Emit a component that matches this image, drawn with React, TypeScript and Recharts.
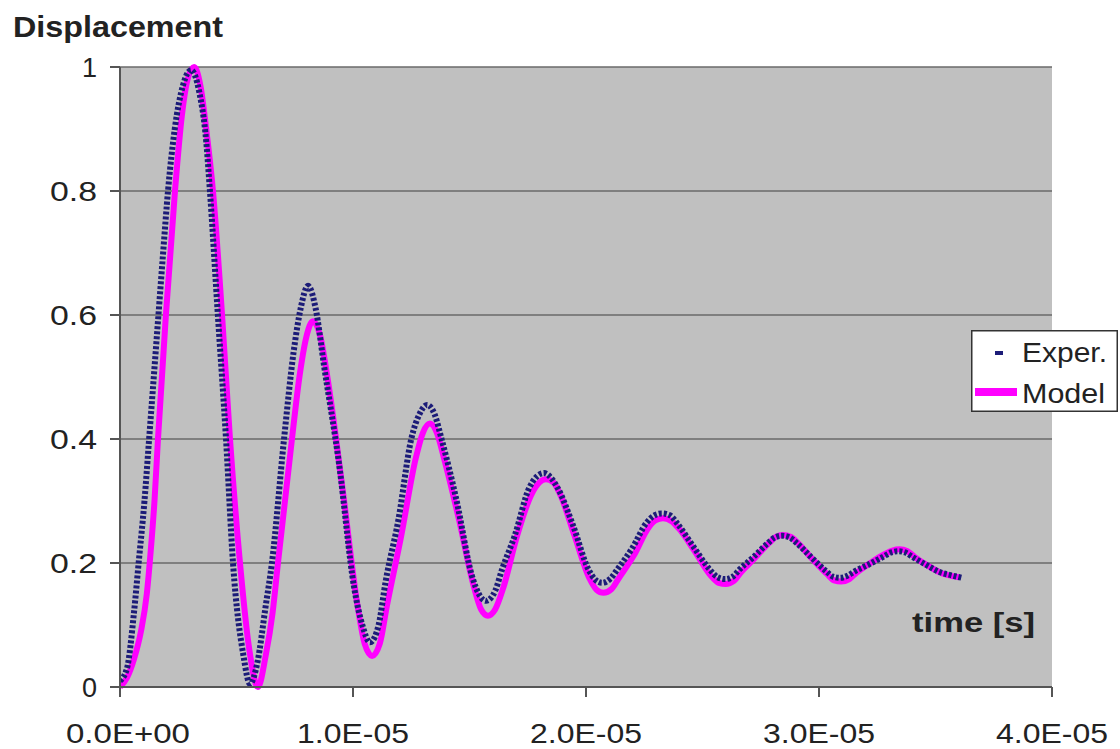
import { LineChart, Line, XAxis, YAxis, CartesianGrid, Legend, Label } from "recharts";

// time in units of 1E-05 s
const expTime = [
  0, 0.03, 0.06, 0.08, 0.105, 0.125, 0.145, 0.165, 0.185, 0.206, 0.235, 0.27, 0.305, 0.34, 0.37, 0.386,
  0.42, 0.455, 0.485, 0.53, 0.558, 0.59, 0.625, 0.652, 0.704, 0.745, 0.775, 0.807, 0.84, 0.875, 0.94,
  1.005, 1.04, 1.073, 1.11, 1.14, 1.195, 1.25, 1.285, 1.318, 1.35, 1.38, 1.445, 1.51, 1.54, 1.571,
  1.61, 1.64, 1.695, 1.755, 1.79, 1.82, 1.855, 1.88, 1.945, 2.01, 2.04, 2.069, 2.105, 2.135, 2.2,
  2.26, 2.295, 2.326, 2.36, 2.395, 2.46, 2.53, 2.565, 2.597, 2.63, 2.66, 2.72, 2.78, 2.81, 2.841,
  2.875, 2.905, 2.965, 3.03, 3.06, 3.09, 3.12, 3.155, 3.215, 3.275, 3.31, 3.339, 3.37, 3.4, 3.46,
  3.52, 3.57, 3.614,
];
const expValue = [
  0.01, 0.03, 0.12, 0.2, 0.3, 0.4, 0.5, 0.6, 0.7, 0.8, 0.9, 0.97, 0.995, 0.96, 0.88, 0.8,
  0.6, 0.4, 0.2, 0.05, 0.005, 0.04, 0.13, 0.2, 0.4, 0.54, 0.61, 0.647, 0.61, 0.52, 0.36,
  0.16, 0.1, 0.072, 0.1, 0.17, 0.27, 0.4, 0.44, 0.455, 0.44, 0.4, 0.3, 0.18, 0.15, 0.139,
  0.155, 0.19, 0.245, 0.32, 0.34, 0.345, 0.335, 0.32, 0.26, 0.19, 0.173, 0.168, 0.175, 0.19, 0.225,
  0.265, 0.277, 0.28, 0.277, 0.262, 0.227, 0.19, 0.177, 0.174, 0.178, 0.19, 0.21, 0.232, 0.241, 0.244,
  0.241, 0.232, 0.21, 0.187, 0.178, 0.176, 0.179, 0.187, 0.198, 0.21, 0.217, 0.219, 0.217, 0.21, 0.197,
  0.185, 0.18, 0.176,
];

const modelTime = [
  0, 0.03, 0.06, 0.09, 0.115, 0.132, 0.148, 0.163, 0.197, 0.236, 0.265, 0.29, 0.318, 0.345, 0.37, 0.399, 0.438,
  0.472, 0.515, 0.555, 0.592, 0.625, 0.655, 0.678, 0.738, 0.77, 0.8, 0.828, 0.86, 0.89, 0.955,
  1.02, 1.05, 1.082, 1.115, 1.145, 1.205, 1.27, 1.3, 1.33, 1.36, 1.39, 1.455, 1.52, 1.55, 1.579,
  1.61, 1.645, 1.705, 1.765, 1.8, 1.828, 1.86, 1.89, 1.95, 2.015, 2.045, 2.075, 2.11, 2.14, 2.205,
  2.27, 2.3, 2.33, 2.365, 2.4, 2.465, 2.535, 2.57, 2.6, 2.635, 2.665, 2.72, 2.785, 2.815, 2.845,
  2.88, 2.91, 2.97, 3.035, 3.065, 3.095, 3.13, 3.16, 3.22, 3.285, 3.315, 3.345, 3.38, 3.41, 3.47,
  3.53, 3.6,
];
const modelValue = [
  0, 0.015, 0.045, 0.09, 0.15, 0.22, 0.3, 0.4, 0.6, 0.8, 0.92, 0.98, 1.0, 0.97, 0.9, 0.8, 0.6,
  0.4, 0.2, 0.06, 0.0, 0.05, 0.12, 0.2, 0.4, 0.5, 0.565, 0.59, 0.565, 0.5, 0.32,
  0.13, 0.07, 0.05, 0.07, 0.13, 0.24, 0.37, 0.41, 0.425, 0.41, 0.37, 0.27, 0.16, 0.125, 0.115,
  0.125, 0.16, 0.245, 0.31, 0.33, 0.335, 0.33, 0.31, 0.245, 0.175, 0.157, 0.152, 0.158, 0.175, 0.212,
  0.258, 0.269, 0.272, 0.268, 0.255, 0.22, 0.18, 0.168, 0.166, 0.171, 0.185, 0.206, 0.232, 0.242, 0.245,
  0.242, 0.232, 0.207, 0.182, 0.172, 0.17, 0.174, 0.184, 0.2, 0.215, 0.22, 0.222, 0.219, 0.21, 0.195,
  0.183, 0.177,
];

const xTicks = [0, 1, 2, 3, 4];
const xTickLabels = ["0.0E+00", "1.0E-05", "2.0E-05", "3.0E-05", "4.0E-05"];
const yTicks = [0, 0.2, 0.4, 0.6, 0.8, 1];
const yTickLabels = ["0", "0.2", "0.4", "0.6", "0.8", "1"];

const expData = expTime.map((t, i) => ({ t, v: expValue[i] }));
const modelData = modelTime.map((t, i) => ({ t, v: modelValue[i] }));

const FONT = "'Liberation Sans', Arial, sans-serif";
const AXIS = "#555555";

const XTick = ({ x, y, payload }: any) => {
  const i = xTicks.indexOf(payload.value);
  return (
    <text
      x={i === 0 ? x + 8 : x}
      y={y + 44}
      textAnchor="middle"
      fontFamily={FONT}
      fontSize={28}
      fill="#222"
      textLength={i === 0 ? 124 : 112}
      lengthAdjust="spacingAndGlyphs">
      {xTickLabels[i]}
    </text>
  );
};

const YTick = ({ x, y, payload }: any) => {
  const i = yTicks.indexOf(payload.value);
  const label = yTickLabels[i];
  return (
    <text
      x={x - 11}
      y={y + 10}
      textAnchor="end"
      fontFamily={FONT}
      fontSize={27}
      fill="#222"
      textLength={label.length > 1 ? 47 : undefined}
      lengthAdjust="spacingAndGlyphs">
      {label}
    </text>
  );
};

const renderLegend = () => (
  <svg width={147} height={82} style={{ display: "block" }}>
    <rect x={0.75} y={0.75} width={145.5} height={80.5} fill="#fff" stroke="#333" strokeWidth={1.5} />
    <rect x={24} y={21} width={8} height={4} fill="#1c1c78" />
    <text x={51} y={32} fontFamily={FONT} fontSize={27} fill="#222" textLength={85} lengthAdjust="spacingAndGlyphs">
      Exper.
    </text>
    <line x1={4} y1={62} x2={46} y2={62} stroke="#ff00ff" strokeWidth={8} />
    <text x={51} y={73} fontFamily={FONT} fontSize={27} fill="#222" textLength={83} lengthAdjust="spacingAndGlyphs">
      Model
    </text>
  </svg>
);

export default function App() {
  return (
    <div style={{ position: "absolute", left: 0, top: 0, width: 1120, height: 749, background: "#fff" }}>
      <LineChart width={1120} height={749} margin={{ top: 67, right: 68, bottom: 0, left: 0 }}>
        <CartesianGrid vertical={false} fill="#C0C0C0" stroke="#6a6a6a" strokeWidth={1.5} />
        <XAxis
          type="number"
          dataKey="t"
          domain={[0, 4]}
          ticks={xTicks}
          height={62}
          tick={<XTick />}
          tickSize={10}
          stroke={AXIS}
          strokeWidth={2}
          allowDataOverflow>
          <Label
            content={({ viewBox }: any) => (
              <text
                x={viewBox.x + viewBox.width - 17}
                y={viewBox.y - 55}
                textAnchor="end"
                fontFamily={FONT}
                fontWeight="bold"
                fontSize={28}
                fill="#222"
                textLength={123}
                lengthAdjust="spacingAndGlyphs">
                time [s]
              </text>
            )}
          />
        </XAxis>
        <YAxis
          type="number"
          domain={[0, 1]}
          ticks={yTicks}
          width={120}
          tick={<YTick />}
          tickSize={10}
          stroke={AXIS}
          strokeWidth={2}>
          <Label
            content={({ viewBox }: any) => (
              <text
                x={13}
                y={viewBox.y - 30}
                fontFamily={FONT}
                fontWeight="bold"
                fontSize={30}
                fill="#222"
                textLength={210}
                lengthAdjust="spacingAndGlyphs">
                Displacement
              </text>
            )}
          />
        </YAxis>
        <Legend
          layout="horizontal"
          verticalAlign="middle"
          align="center"
          wrapperStyle={{ left: 971, top: 330, width: 147, height: 82 }}
          content={renderLegend}
        />
        <Line
          data={modelData}
          dataKey="v"
          name="Model"
          type="monotone"
          stroke="#ff00ff"
          strokeWidth={6}
          dot={false}
          isAnimationActive={false}
        />
        <Line
          data={expData}
          dataKey="v"
          name="Exper."
          type="monotone"
          stroke="#1c1c78"
          strokeWidth={6}
          strokeDasharray="3 2"
          dot={false}
          isAnimationActive={false}
        />
      </LineChart>
    </div>
  );
}
